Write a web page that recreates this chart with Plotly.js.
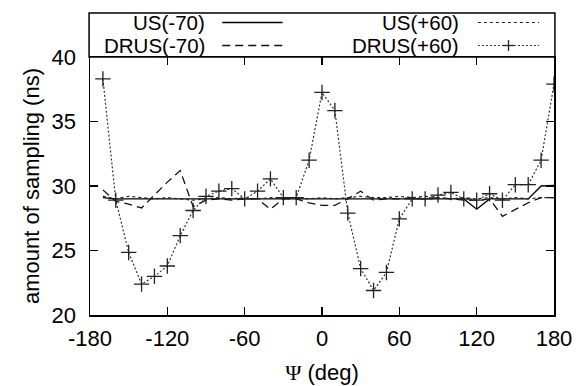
<!DOCTYPE html>
<html>
<head>
<meta charset="utf-8">
<script src="https://cdn.plot.ly/plotly-3.0.1.min.js"></script>
<style>html,body{margin:0;padding:0;background:#fff;}#chart{width:579px;height:386px;}</style>
</head>
<body>
<div id="chart"></div>
<script>
// Psi angle (deg)
const psi = [-170,-160,-150,-140,-130,-120,-110,-100,-90,-80,-70,-60,-50,-40,-30,-20,-10,0,
             10,20,30,40,50,60,70,80,90,100,110,120,130,140,150,160,170,180];
const us70 = [29.1,29.0,29.0,29.0,29.0,29.0,29.0,29.0,29.0,29.0,29.0,29.0,29.0,29.0,29.0,29.0,29.0,29.0,
              29.0,29.0,29.0,29.0,29.0,29.0,29.0,29.0,29.0,29.0,29.0,28.2,29.0,29.0,29.0,29.0,30.0,30.05];
const drus70 = [29.7,28.8,28.6,28.3,29.3,30.3,31.2,28.4,28.9,29.0,28.9,29.0,29.0,28.2,29.0,29.0,28.7,28.5,
                28.5,29.0,29.6,28.9,29.0,29.0,29.1,29.0,29.1,29.0,28.9,28.9,29.0,27.65,28.2,28.7,29.1,29.1];
const us60 = [29.2,29.0,29.2,29.1,29.0,29.1,29.0,28.9,29.0,29.1,29.0,29.1,29.0,29.1,29.0,29.1,29.0,29.1,
              29.0,29.1,29.2,29.1,29.1,29.2,29.1,29.2,29.1,29.0,29.1,29.0,29.1,29.0,29.1,29.0,29.1,29.1];
const drus60 = [38.3,28.9,24.85,22.4,23.0,23.8,26.15,28.1,29.2,29.6,29.8,29.0,29.6,30.55,29.1,29.1,32.0,37.25,
                35.85,27.9,23.6,21.9,23.3,27.45,29.0,29.0,29.3,29.5,29.0,28.9,29.4,28.9,30.1,30.1,32.0,37.9];
const seriesNames = ["US(-70)","DRUS(-70)","US(+60)","DRUS(+60)"];
const xTicks = [-180,-120,-60,0,60,120,180];
const yTicks = [20,25,30,35,40];

const FONT = "Liberation Sans, Arial, Helvetica, sans-serif";
const FS = 22;
const LFS = 20.5;
const traces = [
  {x: psi, y: us70, name: seriesNames[0], mode: "lines", line: {color: "#000", width: 1.4}},
  {x: psi, y: drus70, name: seriesNames[1], mode: "lines", line: {color: "#111", width: 1.3, dash: "8px,5px"}},
  {x: psi, y: us60, name: seriesNames[2], mode: "lines", line: {color: "#222", width: 1.2, dash: "3px,3px"}},
  {x: psi, y: drus60, name: seriesNames[3], mode: "lines+markers",
   line: {color: "#333", width: 1.2, dash: "2px,2px"},
   marker: {symbol: "cross-thin-open", size: 11, color: "#222", line: {color: "#222", width: 1.3}}}
];

// legend built in gnuplot style: text then sample
const shapes = [
  {type: "rect", xref: "paper", yref: "paper", x0: -0.002, x1: 1.002, y0: 1.0, y1: 1.171,
   line: {color: "#000", width: 1.5}, fillcolor: "rgba(0,0,0,0)"}
];
const rowY = [1.1337, 1.0446];
const colTextX = [0.250, 0.797];
const sX0 = [0.285, 0.836];
const sX1 = [0.415, 0.968];
const sampleStyles = [
  {color: "#000", width: 1.4, dash: "solid"},
  {color: "#111", width: 1.3, dash: "8px,5px"},
  {color: "#222", width: 1.2, dash: "3px,3px"},
  {color: "#333", width: 1.2, dash: "2px,2px"}
];
const annotations = [];
const order = [[0,0,0],[2,0,1],[1,1,0],[3,1,1]]; // series, row, col
order.forEach(([s, r, c]) => {
  annotations.push({xref: "paper", yref: "paper", x: colTextX[c], y: rowY[r], xanchor: "right", yanchor: "middle",
    text: seriesNames[s], showarrow: false, borderpad: 0, font: {family: FONT, size: LFS, color: "#000"}});
  shapes.push({type: "line", xref: "paper", yref: "paper", x0: sX0[c], x1: sX1[c], y0: rowY[r], y1: rowY[r],
    line: sampleStyles[s]});
});
// plus marker on DRUS(+60) sample
const pcx = (sX0[1] + sX1[1]) / 2;
shapes.push({type: "line", xref: "paper", yref: "paper", x0: pcx - 0.012, x1: pcx + 0.012, y0: rowY[1], y1: rowY[1], line: {color: "#222", width: 1.3}});
shapes.push({type: "line", xref: "paper", yref: "paper", x0: pcx, x1: pcx, y0: rowY[1] - 0.021, y1: rowY[1] + 0.021, line: {color: "#222", width: 1.3}});

const layout = {
  width: 579, height: 386,
  margin: {l: 90, r: 25, t: 57, b: 71, pad: 0},
  paper_bgcolor: "#fff", plot_bgcolor: "#fff",
  showlegend: false,
  font: {family: FONT, size: FS, color: "#000"},
  xaxis: {
    range: [-180, 180], tickvals: xTicks, ticktext: xTicks.map(String),
    ticks: "inside", ticklen: 8, tickwidth: 1.3, tickcolor: "#000",
    showline: true, linecolor: "#000", linewidth: 1.5, mirror: "ticks",
    showgrid: false, zeroline: false, ticklabelstandoff: 3,
    tickfont: {family: FONT, size: FS, color: "#000"},
    title: {text: "<span style=\"font-family:'Liberation Serif',serif\">Ψ</span> (deg)", font: {family: FONT, size: FS, color: "#000"}, standoff: 14}
  },
  yaxis: {
    range: [20, 40], tickvals: yTicks, ticktext: yTicks.map(String),
    ticks: "inside", ticklen: 8, tickwidth: 1.3, tickcolor: "#000",
    showline: true, linecolor: "#000", linewidth: 1.5, mirror: "ticks",
    showgrid: false, zeroline: false, ticklabelstandoff: 8,
    tickfont: {family: FONT, size: FS, color: "#000"},
    title: {text: "amount of sampling (ns)", font: {family: FONT, size: FS, color: "#000"}, standoff: 6}
  },
  shapes: shapes,
  annotations: annotations
};
Plotly.newPlot("chart", traces, layout, {displayModeBar: false, staticPlot: true});
</script>
</body>
</html>
